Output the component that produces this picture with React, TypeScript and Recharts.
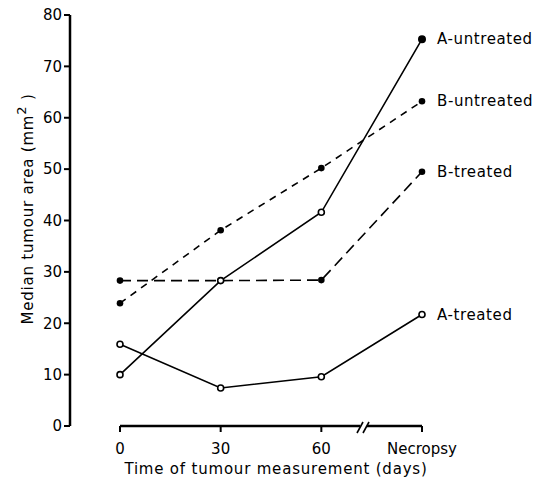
import { LineChart, Line, XAxis, YAxis, ReferenceLine, Label } from 'recharts';

const times = ['0', '30', '60', 'Necropsy'];
const aUntreated = [10, 28.3, 41.6, 75.3];
const bUntreated = [23.9, 38.1, 50.2, 63.2];
const bTreated = [28.3, 28.3, 28.4, 49.5];
const aTreated = [15.9, 7.4, 9.6, 21.7];
const yTicks = [0, 10, 20, 30, 40, 50, 60, 70, 80];

const data = times.map((t, i) => ({
  time: t,
  aUntreated: aUntreated[i],
  bUntreated: bUntreated[i],
  bTreated: bTreated[i],
  aTreated: aTreated[i],
}));

const FONT = '"DejaVu Sans", sans-serif';

const OpenDot = (props: any) => {
  const { cx, cy, index, filledLast } = props;
  const filled = filledLast && index === times.length - 1;
  return (
    <circle
      key={index}
      cx={cx}
      cy={cy}
      r={filled ? 3.2 : 3}
      fill={filled ? '#000' : '#fff'}
      stroke="#000"
      strokeWidth={1.6}
    />
  );
};

const FilledDot = (props: any) => {
  const { cx, cy, index } = props;
  return <circle key={index} cx={cx} cy={cy} r={3.3} fill="#000" stroke="none" />;
};

const EndLabel = (text: string) => (props: any) => {
  const { x, y, index } = props;
  if (index !== times.length - 1) return null;
  return (
    <text x={x + 15} y={y + 5} fontSize={15} letterSpacing={0.6} fontFamily={FONT} fill="#000">
      {text}
    </text>
  );
};

const XTick = (props: any) => {
  const { x, y, payload, index } = props;
  return (
    <g>
      {index === times.length - 1 && (
        <g stroke="#000" strokeWidth={1.6}>
          <rect x={x - 62} y={y - 10} width={7} height={6} fill="#fff" stroke="none" />
          <line x1={x - 65} y1={y - 1} x2={x - 59} y2={y - 12} />
          <line x1={x - 59} y1={y - 1} x2={x - 53} y2={y - 12} />
        </g>
      )}
      <text x={x} y={y + 20} textAnchor="middle" fontSize={15} fontFamily={FONT} fill="#000">
        {payload.value}
      </text>
    </g>
  );
};

const YAxisTitle = () => (
  <text
    transform="translate(33,209) rotate(-90)"
    textAnchor="middle"
    fontSize={15}
    letterSpacing={0.8}
    fontFamily={FONT}
    fill="#000"
  >
    Median tumour area (mm
    <tspan dy={-7} fontSize={13}>2</tspan>
    <tspan dy={7}> )</tspan>
  </text>
);

export default function App() {
  return (
    <div style={{ position: 'absolute', left: 0, top: 0, background: '#fff' }}>
      <LineChart
        width={541}
        height={480}
        data={data}
        margin={{ top: 15, right: 109, left: 10, bottom: 24 }}
      >
        <XAxis
          dataKey="time"
          axisLine={false}
          tickLine={{ stroke: '#000', strokeWidth: 2 }}
          tickSize={6}
          padding={{ left: 50, right: 10 }}
          height={30}
          tick={<XTick />}
          interval={0}
        >
          <Label
            value="Time of tumour measurement (days)"
            position="insideBottom"
            offset={-18}
            dx={25}
            style={{ fontSize: 15, fontFamily: FONT, fill: '#000', letterSpacing: 0.8 }}
          />
        </XAxis>
        <YAxis
          type="number"
          domain={[0, 80]}
          ticks={yTicks}
          width={60}
          axisLine={{ stroke: '#000', strokeWidth: 2.5 }}
          tickLine={{ stroke: '#000', strokeWidth: 2 }}
          tickSize={6}
          tick={{ fontSize: 15, fontFamily: FONT, fill: '#000' }}
          label={<YAxisTitle />}
        />
        <ReferenceLine
          segment={[
            { x: '0', y: 0 },
            { x: 'Necropsy', y: 0 },
          ]}
          stroke="#000"
          strokeWidth={2.5}
          ifOverflow="visible"
        />
        <Line
          dataKey="bTreated"
          stroke="#000"
          strokeWidth={1.6}
          strokeDasharray="11 6"
          dot={<FilledDot />}
          label={EndLabel('B-treated')}
          isAnimationActive={false}
        />
        <Line
          dataKey="bUntreated"
          stroke="#000"
          strokeWidth={1.6}
          strokeDasharray="7 6"
          dot={<FilledDot />}
          label={EndLabel('B-untreated')}
          isAnimationActive={false}
        />
        <Line
          dataKey="aTreated"
          stroke="#000"
          strokeWidth={1.6}
          dot={<OpenDot />}
          label={EndLabel('A-treated')}
          isAnimationActive={false}
        />
        <Line
          dataKey="aUntreated"
          stroke="#000"
          strokeWidth={1.6}
          dot={<OpenDot filledLast />}
          label={EndLabel('A-untreated')}
          isAnimationActive={false}
        />
      </LineChart>
    </div>
  );
}
